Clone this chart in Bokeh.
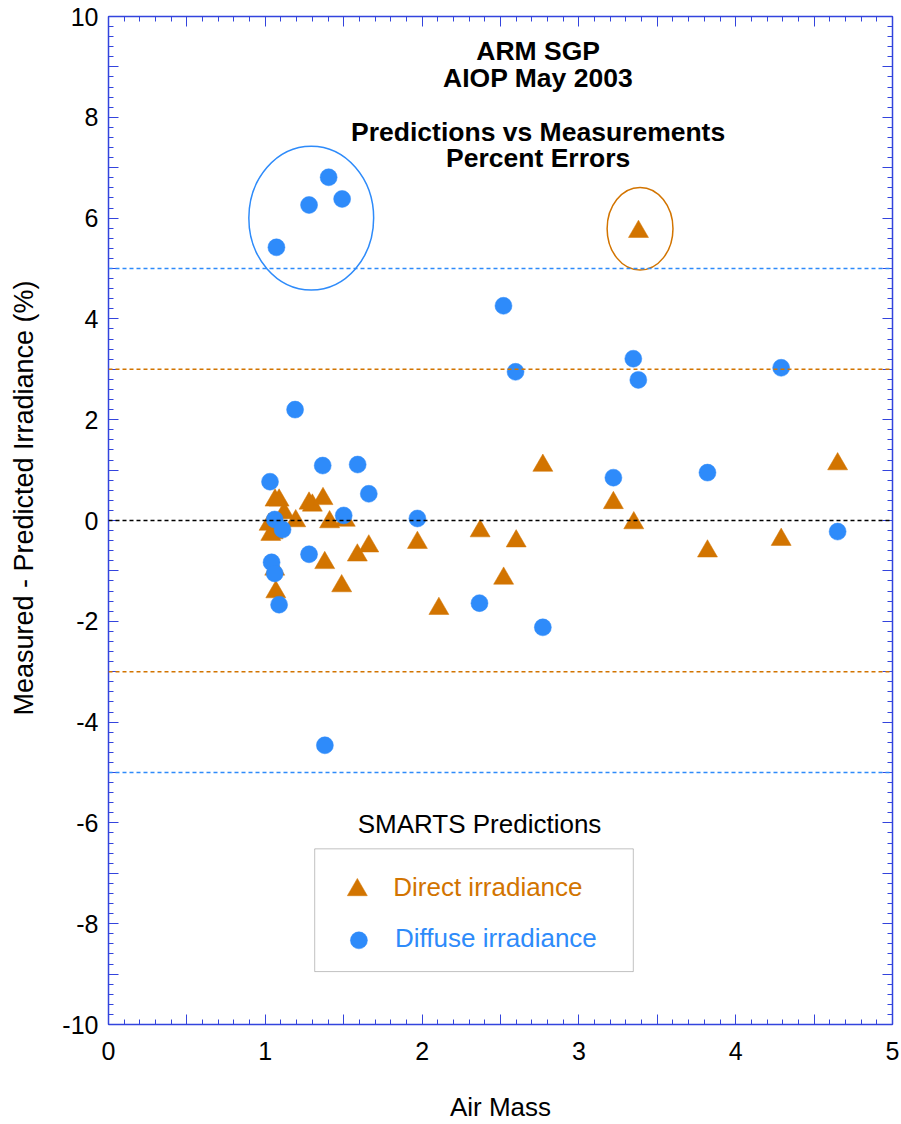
from bokeh.plotting import figure
from bokeh.models import (Range1d, LinearAxis, FixedTicker, CustomJSTickFormatter,
                          Span, Label, BoxAnnotation)
from bokeh.embed import file_html
from bokeh.resources import INLINE

# ---- data: air mass vs. percent error (measured - predicted) ----
direct_airmass = [1.062, 1.088, 1.279, 1.30, 1.368, 1.12, 1.194, 1.41, 1.51, 1.024,
                  1.035, 1.05, 1.06, 1.379, 1.587, 1.66, 1.067, 1.487, 1.97, 2.107,
                  2.37, 2.52, 2.60, 2.77, 3.22, 3.35, 3.38, 3.82, 4.29, 4.65]
direct_error = [0.40, 0.40, 0.34, 0.30, 0.43, 0.15, -0.01, -0.03, 0.0, -0.08,
                -0.28, -0.25, -0.97, -0.84, -0.69, -0.51, -1.42, -1.30, -0.44, -1.75,
                -0.21, -1.15, -0.41, 1.09, 0.35, -0.05, 5.73, -0.61, -0.38, 1.12]

diffuse_airmass = [1.071, 1.279, 1.404, 1.49, 2.519, 2.596, 3.347, 3.379, 4.29, 1.19,
                   1.03, 1.366, 1.589, 1.66, 1.50, 1.97, 1.06, 1.11, 1.279, 1.04,
                   1.06, 1.088, 2.366, 2.77, 1.38, 3.22, 3.82, 4.65]
diffuse_error = [5.42, 6.26, 6.81, 6.38, 4.26, 2.95, 3.21, 2.79, 3.03, 2.20,
                 0.77, 1.09, 1.11, 0.53, 0.10, 0.04, 0.02, -0.18, -0.67, -0.83,
                 -1.05, -1.67, -1.64, -2.12, -4.46, 0.85, 0.95, -0.22]

# error bands: (level, colour key)
band_levels = [5, -5, 3, -3, 0]
band_kinds = ["diffuse", "diffuse", "direct", "direct", "zero"]

# rings drawn around the outliers: x, y, width, height (data units)
diffuse_ring = [1.293, 6.0, 0.796, 2.85]
direct_ring = [3.39, 5.79, 0.42, 1.64]

title_lines = ["ARM SGP", "AIOP May 2003", "Predictions vs Measurements", "Percent Errors"]
# leading no-break spaces lift the rotated title a little above the frame's middle
y_title = "\u00a0" * 6 + "Measured - Predicted Irradiance (%)"

ORANGE = "#D27400"
BLUE = "#2E8BFA"
AXIS_BLUE = "#3344DD"
FONT = "Liberation Sans"
colors = {"direct": ORANGE, "diffuse": BLUE, "zero": "black"}

p = figure(width=901, height=1124, x_range=Range1d(0, 5), y_range=Range1d(-10, 10),
           x_axis_type=None, y_axis_type=None, output_backend="svg",
           toolbar_location=None, min_border_left=108, min_border_right=9,
           min_border_top=16, min_border_bottom=98)
p.outline_line_color = None
p.grid.visible = False
p.background_fill_color = "white"

x_major = [i * 0.5 for i in range(11)]
x_minor = [i * 0.1 for i in range(51)]
y_major = list(range(-10, 11))
y_minor = [i * 0.2 - 10 for i in range(101)]

x_fmt = CustomJSTickFormatter(code="return Math.abs(tick - Math.round(tick)) < 1e-6 ? Math.round(tick).toString() : '';")
y_fmt = CustomJSTickFormatter(code="var t = Math.round(tick); return (t % 2 === 0) ? t.toString() : '';")
blank = CustomJSTickFormatter(code="return '';")


def style(ax, labelled):
    ax.axis_line_color = AXIS_BLUE
    ax.axis_line_width = 1.5
    ax.major_tick_line_color = AXIS_BLUE
    ax.minor_tick_line_color = AXIS_BLUE
    ax.major_tick_in = 10
    ax.major_tick_out = 0
    ax.minor_tick_in = 5
    ax.minor_tick_out = 0
    ax.major_label_text_font = FONT
    ax.major_label_text_font_size = "25px" if labelled else "0px"
    ax.major_label_text_color = "black"
    ax.axis_label_text_font = FONT
    ax.axis_label_text_font_size = "26px"
    ax.axis_label_text_font_style = "normal"
    ax.axis_label_text_color = "black"
    if not labelled:
        ax.major_label_standoff = 0
    return ax


bottom = style(LinearAxis(ticker=FixedTicker(ticks=x_major, minor_ticks=x_minor),
                          formatter=x_fmt, axis_label="Air Mass"), True)
bottom.major_label_standoff = 17
bottom.axis_label_standoff = 29
top = style(LinearAxis(ticker=FixedTicker(ticks=x_major, minor_ticks=x_minor),
                       formatter=blank), False)
left = style(LinearAxis(ticker=FixedTicker(ticks=y_major, minor_ticks=y_minor),
                        formatter=y_fmt, axis_label=y_title), True)
left.major_label_standoff = 10
left.axis_label_standoff = 20
left.axis_label_text_font_size = "27px"
right = style(LinearAxis(ticker=FixedTicker(ticks=y_major, minor_ticks=y_minor),
                         formatter=blank), False)

p.add_layout(bottom, "below")
p.add_layout(top, "above")
p.add_layout(left, "left")
p.add_layout(right, "right")

# dashed reference levels
for lvl, kind in zip(band_levels, band_kinds):
    p.add_layout(Span(location=lvl, dimension="width", line_color=colors[kind],
                      line_dash="4 3", line_width=1.5))

# outlier rings
for ring, col in ((diffuse_ring, BLUE), (direct_ring, ORANGE)):
    p.ellipse(x=[ring[0]], y=[ring[1]], width=[ring[2]], height=[ring[3]],
              fill_color=None, line_color=col, line_width=1.5)

# data points: direct first, diffuse on top
p.scatter(direct_airmass, direct_error, marker="triangle", size=20,
          fill_color=ORANGE, line_color=ORANGE, line_width=0.5)
p.scatter(diffuse_airmass, diffuse_error, marker="circle", size=17,
          fill_color=BLUE, line_color=BLUE, line_width=0.5)

# title block inside the frame
title_y = [9.31, 8.77, 7.71, 7.19]
for txt, ty in zip(title_lines, title_y):
    p.add_layout(Label(x=2.74, y=ty, text=txt, text_align="center",
                       text_baseline="alphabetic", text_font=FONT,
                       text_font_size="26.5px", text_font_style="bold",
                       text_color="black"))

# key
p.add_layout(Label(x=2.366, y=-6.02, text="SMARTS Predictions", text_align="center",
                   text_baseline="alphabetic", text_font=FONT, text_font_size="26px",
                   text_color="black"))
p.add_layout(BoxAnnotation(left=1.315, right=3.347, top=-6.515, bottom=-8.95,
                           fill_color=None, line_color="#333333", line_width=1))
p.scatter([1.587], [-7.33], marker="triangle", size=20, fill_color=ORANGE,
          line_color=ORANGE, line_width=0.5)
p.scatter([1.597], [-8.33], marker="circle", size=17, fill_color=BLUE,
          line_color=BLUE, line_width=0.5)
p.add_layout(Label(x=1.816, y=-7.265, text="Direct irradiance", text_align="left",
                   text_baseline="alphabetic", text_font=FONT, text_font_size="26px",
                   text_color=ORANGE))
p.add_layout(Label(x=1.827, y=-8.28, text="Diffuse irradiance", text_align="left",
                   text_baseline="alphabetic", text_font=FONT, text_font_size="26px",
                   text_color=BLUE))

open("out.html", "w").write(file_html(p, INLINE))
